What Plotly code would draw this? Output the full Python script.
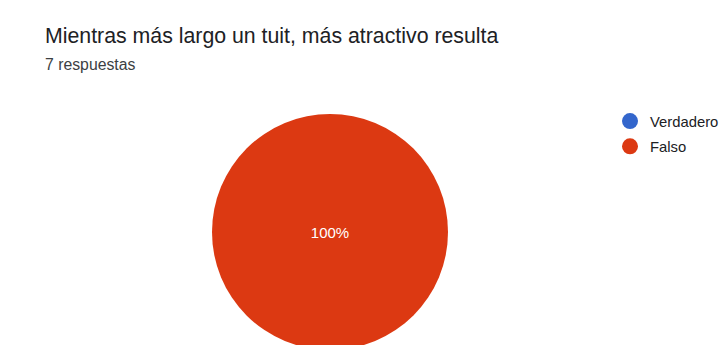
import plotly.graph_objects as go

categories = ["Verdadero", "Falso"]
values = [0, 7]
colors = ["#3366cc", "#dc3912"]
title_text = "Mientras más largo un tuit, más atractivo resulta"
subtitle_text = "7 respuestas"

W, H = 720, 360
FONT = "Arial, Liberation Sans, sans-serif"

fig = go.Figure()
fig.add_trace(go.Pie(
    labels=categories, values=values,
    marker=dict(colors=colors, line=dict(width=0)),
    textinfo="percent", textposition="inside",
    insidetextfont=dict(color="white", size=15, family=FONT),
    sort=False, direction="clockwise",
    showlegend=False, hoverinfo="label+percent",
    domain=dict(x=[212 / W, 448 / W], y=[(H - 350) / H, (H - 114) / H]),
))
for c, col in zip(categories, colors):
    fig.add_trace(go.Scatter(
        x=[None], y=[None], mode="markers", name=c, legendgroup=c,
        marker=dict(symbol="circle", size=17, color=col),
        showlegend=True,
    ))

fig.update_layout(
    width=W, height=H,
    margin=dict(l=0, r=0, t=0, b=0, autoexpand=False),
    paper_bgcolor="white", plot_bgcolor="white",
    xaxis=dict(visible=False), yaxis=dict(visible=False),
    legend=dict(x=610 / W, y=1 - 105 / H, xanchor="left", yanchor="top",
                font=dict(size=14.8, color="#202124", family=FONT),
                itemsizing="trace", tracegroupgap=3, traceorder="grouped",
                bgcolor="rgba(0,0,0,0)"),
    annotations=[
        dict(text=title_text, x=43 / W, y=1 - 36 / H, xref="paper", yref="paper",
             xanchor="left", yanchor="middle", showarrow=False,
             font=dict(size=21.3, color="#202124", family=FONT)),
        dict(text=subtitle_text, x=43 / W, y=1 - 64 / H, xref="paper", yref="paper",
             xanchor="left", yanchor="middle", showarrow=False,
             font=dict(size=15.8, color="#3c4043", family=FONT)),
    ],
)

fig.write_html("out.html", post_script="document.body.style.overflow='hidden';document.body.style.margin='0';")
